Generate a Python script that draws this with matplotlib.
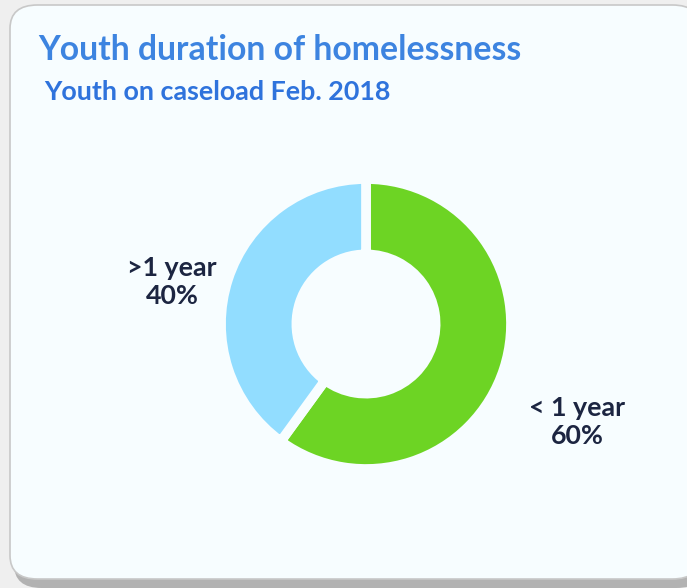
import matplotlib.pyplot as plt
from matplotlib.patches import FancyBboxPatch

# Data
categories = ["< 1 year", ">1 year"]
shares = [60, 40]
colors = ["#6dd424", "#92ddff"]

W, H = 687, 588
fig = plt.figure(figsize=(W / 100, H / 100), dpi=100)
fig.patch.set_facecolor("#efefef")

# card background with shadow
shadow = FancyBboxPatch((14 / W, 0 / H), 690 / W, 578 / H,
                        boxstyle="round,pad=0,rounding_size=0.04",
                        transform=fig.transFigure, facecolor="#8a8a8a",
                        edgecolor="none", zorder=-2, alpha=0.6)
card = FancyBboxPatch((10 / W, 9 / H), 690 / W, 574 / H,
                      boxstyle="round,pad=0,rounding_size=0.04",
                      transform=fig.transFigure, facecolor="#f7fdff",
                      edgecolor="#c8c8c8", linewidth=1.2, zorder=-1)
fig.patches.extend([shadow, card])

fig.text(38 / W, 1 - 50 / H, "Youth duration of homelessness",
         fontsize=24.3, fontweight="bold", color="#3d84e0",
         family="Lato", va="center", ha="left")
fig.text(44 / W, 1 - 92 / H, "Youth on caseload Feb. 2018",
         fontsize=19.4, fontweight="bold", color="#2f73dc",
         family="Lato", va="center", ha="left")

# donut
cx, cy, r = 366, 324, 145
ax = fig.add_axes([(cx - r) / W, (H - cy - r) / H, 2 * r / W, 2 * r / H])
ax.set_facecolor("none")
ax.pie(shares, colors=colors, startangle=90, counterclock=False,
       radius=1, wedgeprops=dict(width=0.52, edgecolor="#f7fdff",
                                 linewidth=7, clip_on=False))
ax.set_xlim(-1, 1)
ax.set_ylim(-1, 1)
ax.set_aspect("equal")
ax.axis("off")

# labels
label_pos = [(577, 422), (172, 282)]
for cat, val, (lx, ly) in zip(categories, shares, label_pos):
    fig.text(lx / W, 1 - ly / H, f"{cat}\n{val}%", fontsize=19.3,
             fontweight="bold", color="#1c2541", family="Lato",
             ha="center", va="center", linespacing=1.25)

fig.savefig("out.png", dpi=100, facecolor=fig.get_facecolor())
